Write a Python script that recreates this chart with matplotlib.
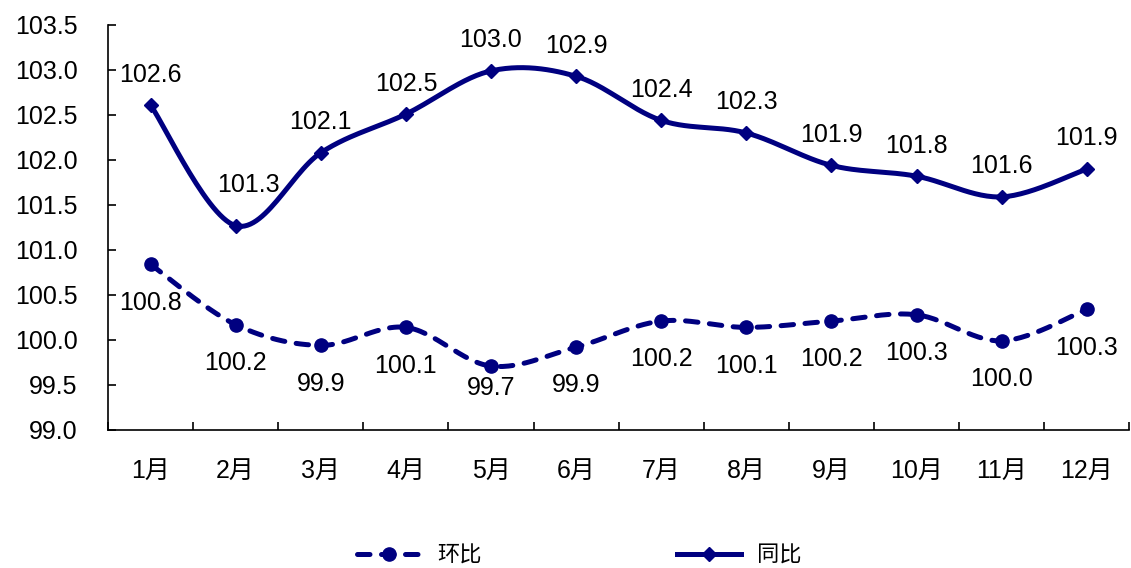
import numpy as np
import matplotlib
matplotlib.use("Agg")
import matplotlib.pyplot as plt
from matplotlib.lines import Line2D

months = ["1月", "2月", "3月", "4月", "5月", "6月", "7月", "8月", "9月", "10月", "11月", "12月"]
yoy = [102.61, 101.27, 102.08, 102.51, 102.99, 102.93, 102.44, 102.30, 101.94, 101.82, 101.59, 101.90]
mom = [100.84, 100.17, 99.94, 100.14, 99.71, 99.92, 100.21, 100.14, 100.21, 100.28, 99.99, 100.34]
yoy_name = "同比"
mom_name = "环比"
yticks = [99.0, 99.5, 100.0, 100.5, 101.0, 101.5, 102.0, 102.5, 103.0, 103.5]

NAVY = "#000080"
FONT = ["Liberation Sans", "Noto Sans CJK SC", "DejaVu Sans"]
plt.rcParams["font.family"] = FONT
FS = 18
LW = 3.6
DASH = (2.5, 2.3)

# label offsets (points) – style only
yoy_off = [(0, 22)] * 12
yoy_off[1] = (9, 29)
mom_off = [(0, -27.5)] * 12
mom_off[4] = (0, -16)


def smooth(x, y, n=30):
    x = np.asarray(x, float)
    y = np.asarray(y, float)
    px = np.concatenate([[x[0]], x, [x[-1]]])
    py = np.concatenate([[y[0]], y, [y[-1]]])
    xs, ys = [], []
    t = np.linspace(0, 1, n)
    for i in range(1, len(px) - 2):
        p0, p1, p2, p3 = (np.array([px[j], py[j]]) for j in range(i - 1, i + 3))
        b1 = p1 + (p2 - p0) / 6.0
        b2 = p2 - (p3 - p1) / 6.0
        pts = ((1 - t) ** 3)[:, None] * p1 + (3 * (1 - t) ** 2 * t)[:, None] * b1 \
            + (3 * (1 - t) * t ** 2)[:, None] * b2 + (t ** 3)[:, None] * p2
        xs.extend(pts[:, 0]); ys.extend(pts[:, 1])
    return np.array(xs), np.array(ys)


fig = plt.figure(figsize=(11.31, 5.68), dpi=100)
ax = fig.add_axes([0.0955, 0.243, 0.903, 0.713])

x = np.arange(len(months))
sx, sy = smooth(x, yoy)
ax.plot(sx, sy, color=NAVY, lw=LW, solid_capstyle="round")
ax.plot(x, yoy, ls="none", marker="D", ms=7, color=NAVY)

mx, my = smooth(x, mom)
ax.plot(mx, my, color=NAVY, lw=LW, dashes=DASH, dash_capstyle="round")
ax.plot(x, mom, ls="none", marker="o", ms=9.5, color=NAVY)

for xi, v, off in zip(x, yoy, yoy_off):
    ax.annotate(f"{v:.1f}", (xi, v), xytext=off, textcoords="offset points",
                ha="center", va="center", fontsize=FS, color="black")
for xi, v, off in zip(x, mom, mom_off):
    ax.annotate(f"{v:.1f}", (xi, v), xytext=off, textcoords="offset points",
                ha="center", va="center", fontsize=FS, color="black")

ax.set_xlim(-0.5, len(months) - 0.5)
ax.set_ylim(99.0, 103.5)
ax.set_yticks(yticks)
ax.set_yticklabels([f"{v:.1f}" for v in yticks], fontsize=FS)
ax.set_xticks(np.arange(len(months) + 1) - 0.5)
ax.set_xticklabels([])
ax.set_xticks(x, minor=True)
ax.set_xticklabels(months, minor=True, fontsize=FS)
ax.tick_params(axis="x", which="minor", length=0, pad=21)
ax.tick_params(axis="x", which="major", direction="in", length=6, width=1.2)
ax.tick_params(axis="y", direction="in", length=6, width=1.2, pad=22)
for s in ["top", "right"]:
    ax.spines[s].set_visible(False)
for s in ["left", "bottom"]:
    ax.spines[s].set_linewidth(1.2)

h1 = Line2D([], [], color=NAVY, lw=LW, dashes=DASH, dash_capstyle="round", marker="o", ms=9.5)
h2 = Line2D([], [], color=NAVY, lw=LW, marker="D", ms=7)
fig.legend([h1, h2], [mom_name, yoy_name], loc="center", bbox_to_anchor=(0.512, 0.022),
           ncol=2, frameon=False, handlelength=2.9, handletextpad=0.7, columnspacing=8.8,
           prop={"family": ["Noto Sans CJK SC"], "size": 16})

fig.savefig("out.png", dpi=100)
